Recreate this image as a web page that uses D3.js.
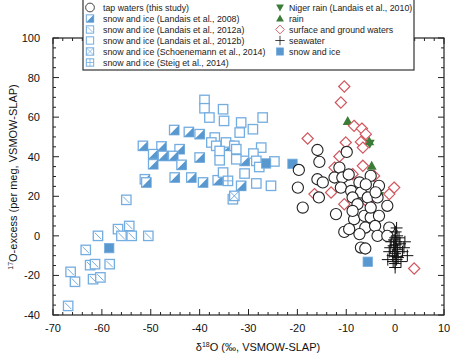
<!DOCTYPE html>
<html><head><meta charset="utf-8">
<script src="https://cdn.jsdelivr.net/npm/d3@7"></script>
<style>body{margin:0;background:#fff}svg{display:block;font-family:"Liberation Sans",Arial,sans-serif}</style>
</head><body><svg id="c" width="450" height="357"></svg>
<script>
// ---- data (δ18O, 17O-excess) ----
const landais2012a = [[-66.9,-35.4],[-66.4,-18.2],[-65.5,-23.2],[-63.3,-7.1],[-60.8,0],[-62.4,-14.8],[-61.4,-14.3],[-61.8,-21.9],[-60.3,-21],[-58.4,-14.3],[-56.7,3.4],[-56,0],[-54.4,5],[-53.9,0],[-50.5,0],[-55,18.2]];
const landais2008 = [[-45.2,53.5],[-42.2,52.5],[-40,51.4],[-51.6,45.5],[-47.8,45.2],[-44.1,43.8],[-49.5,41.3],[-47.5,40.4],[-45.4,40.4],[-40,39.6],[-49.5,36.2],[-43.7,35.9],[-51.2,28.6],[-50.9,27],[-45.1,29.5],[-41.7,29.5],[-39.3,27],[-36.3,28.1],[-31.5,25.3],[-30.8,37.9],[-33.9,45.5]];
const landais2012b = [[-39,68.7],[-39,64.5],[-38,59.8],[-35.2,64],[-35,58.1],[-31.5,57.3],[-27.1,59.8],[-29.1,53.9],[-31.8,52.2],[-36.9,49.7],[-37.6,47.2],[-36.6,45.5],[-34.6,47.2],[-32.9,45.5],[-32.5,43.8],[-35.9,42.9],[-27.4,44.6],[-29,41.6],[-32.5,38.7],[-35.9,38.2],[-28.4,37.9],[-24.7,37.6],[-27.8,34.8],[-35.2,32],[-30.8,31.5],[-28.4,26.5],[-25.4,25.3],[-33.2,18.5]];
const schoenemann2014 = [[-32.9,20.2]];
const steig2014 = [[-34.2,27.8]];
const snowIce = [[-58.5,-6.2],[-26.4,36.6],[-21,36.4],[-5.6,-13.1]];
const nigerRain = [[-3.3,20.2],[-5.2,46.5]];
const rain = [[-9.7,58.1],[-5.3,47.8],[-4.8,35.4]];
const surfaceGround = [[-10.4,75.5],[-11.1,67.4],[-17.9,49.2],[-8.4,55.6],[-6.8,54.2],[-6,51.4],[-7,47.5],[-10.1,47.2],[-6.6,44.6],[-11.4,40.1],[-6.6,35.4],[-12.4,34.5],[-8.7,31.2],[-4.3,30.3],[-0.2,24.4],[-1.2,21.1],[-16.5,21.1],[-13.1,21.9],[-10.4,16],[-5.6,16.9],[3.9,-16.5]];
const tapWaters = [[-15.9,43.4],[-15.5,37.4],[-19.7,33.3],[-19.9,24.4],[-18.9,14.3],[-15.9,28.6],[-14.8,27],[-15.6,19.4],[-9.9,42.4],[-11.4,34.5],[-12.4,29.5],[-10.8,29.5],[-5,30.3],[-7.3,27],[-11.1,24.4],[-9,22.7],[-7,21.9],[-3.3,25.3],[-8.7,19.4],[-5.6,19.4],[-3.6,19.4],[-7.7,16],[-1.6,15.2],[-12.1,11],[-8.4,8.4],[-6.3,10.1],[-5,9.3],[-3.3,10.1],[-6.1,4.2],[-4.1,5],[-1.2,4.2],[-10.4,2],[-7.3,0.9],[-3.6,0],[-1.6,0],[-7,-5.9],[-6.1,-6.4],[-9.4,3.4],[-5,14.3],[-8.7,12.6],[-9.5,31],[-6,26],[-4,22]];
const seawater = [[0,-1],[0.2,-3],[-0.3,-5],[0.5,-7],[0,-9],[-0.5,-10],[0.3,-12],[1,-4],[-1,-6],[1.5,-8],[0.1,2],[0.4,0],[-0.2,-2],[0,-14],[0.6,-11],[-1.2,-8],[2,-3],[0.2,-6],[-0.4,-13],[0.8,-1],[0,-16],[1.2,-13],[-0.8,-3],[0.3,4],[2.5,-10],[-1.5,-12],[0.1,-4.5],[-0.1,-8],[0.2,-10.5],[1.8,-6]];
const xTicks = [-70,-60,-50,-40,-30,-20,-10,0,10];
const yTicks = [-40,-20,0,20,40,60,80,100];
const legendLeft = [["circle","tap waters (this study)"],["half","snow and ice (Landais et al., 2008)"],["slash","snow and ice (Landais et al., 2012a)"],["open","snow and ice (Landais et al., 2012b)"],["xbox","snow and ice (Schoenemann et al., 2014)"],["grid","snow and ice (Steig et al., 2014)"]];
const legendRight = [["down","Niger rain (Landais et al., 2010)"],["up","rain"],["diamond","surface and ground waters"],["plus","seawater"],["filled","snow and ice"]];

// ---- layout ----
const svg = d3.select("#c");
const L=53,R=444,T=38,B=315;
const x = d3.scaleLinear().domain([-70,10]).range([L,R]);
const y = d3.scaleLinear().domain([-40,100]).range([B,T]);
const BLUE_S="#74ade0", BLUE_F="#5898cf", RED="#d2555d", GREEN="#3b7c38";

function sym(g,type,cx,cy,k){
  k=k||1;
  const s=9.4,h=s/2;
  const gg=g.append("g").attr("transform",`translate(${cx},${cy}) scale(${k})`);
  const box=()=>gg.append("rect").attr("x",-h).attr("y",-h).attr("width",s).attr("height",s).attr("fill","#fff").attr("stroke",BLUE_S).attr("stroke-width",1.3);
  const ln=(a,b,c,d)=>gg.append("line").attr("x1",a).attr("y1",b).attr("x2",c).attr("y2",d).attr("stroke",BLUE_S).attr("stroke-width",1);
  switch(type){
    case "circle": gg.append("circle").attr("r",5.6).attr("fill","#fff").attr("stroke","#222").attr("stroke-width",1.1); break;
    case "half": box(); gg.append("path").attr("d",`M${h},${-h}L${h},${h}L${-h},${h}Z`).attr("fill",BLUE_F); break;
    case "slash": box(); ln(-h+1.5,-h+1.5,h-1.5,h-1.5); break;
    case "open": box(); break;
    case "xbox": box(); ln(-h,-h,h,h); ln(-h,h,h,-h); break;
    case "grid": box(); ln(0,-h,0,h); ln(-h,0,h,0); break;
    case "filled": gg.append("rect").attr("x",-h).attr("y",-h).attr("width",s).attr("height",s).attr("fill",BLUE_F).attr("stroke",BLUE_S).attr("stroke-width",0.8); break;
    case "diamond": gg.append("path").attr("d","M0,-5.6L5.6,0L0,5.6L-5.6,0Z").attr("fill","#fff").attr("stroke",RED).attr("stroke-width",1.2); break;
    case "up": gg.append("path").attr("d","M0,-5L5,4L-5,4Z").attr("fill",GREEN); break;
    case "down": gg.append("path").attr("d","M0,5L5,-4L-5,-4Z").attr("fill",GREEN); break;
    case "plus": gg.append("path").attr("d","M-6,0H6M0,-6V6").attr("stroke","#111").attr("stroke-width",1); break;
  }
}

// frame + ticks
const ax=svg.append("g");
const tick=(x1,y1,x2,y2)=>ax.append("line").attr("x1",x1).attr("y1",y1).attr("x2",x2).attr("y2",y2).attr("stroke","#222").attr("stroke-width",1);
d3.range(-70,10.01,2).forEach(v=>{const len=(v%10===0)?6:3;tick(x(v),B,x(v),B-len);tick(x(v),T,x(v),T+len);});
d3.range(-40,100.01,5).forEach(v=>{const len=(v%20===0)?6:3;tick(L,y(v),L+len,y(v));tick(R,y(v),R-len,y(v));});
ax.append("rect").attr("x",L).attr("y",T).attr("width",R-L).attr("height",B-T).attr("fill","none").attr("stroke","#222").attr("stroke-width",1.2);
xTicks.forEach(v=>ax.append("text").attr("x",x(v)).attr("y",B+17).attr("text-anchor","middle").attr("font-size",11).attr("fill","#111").text(v));
yTicks.forEach(v=>ax.append("text").attr("x",L-13).attr("y",y(v)+4).attr("text-anchor","end").attr("font-size",11).attr("fill","#111").text(v));

// axis titles
const xt=svg.append("text").attr("x",258).attr("y",351).attr("text-anchor","middle").attr("font-size",11).attr("fill","#111");
xt.append("tspan").text("δ");xt.append("tspan").attr("font-size",7).attr("dy",-4).text("18");xt.append("tspan").attr("dy",4).text("O (‰, VSMOW-SLAP)");
const yt=svg.append("text").attr("transform","translate(17,177) rotate(-90)").attr("text-anchor","middle").attr("font-size",11).attr("fill","#111");
yt.append("tspan").attr("font-size",7).attr("dy",-4).text("17");yt.append("tspan").attr("dy",4).text("O-excess (per meg, VSMOW-SLAP)");

// points
const pg=svg.append("g");
const plot=(data,type)=>data.forEach(d=>sym(pg,type,x(d[0]),y(d[1])));
plot(landais2012a,"slash");
plot(landais2008,"half");
plot(landais2012b,"open");
plot(steig2014,"grid");
plot(schoenemann2014,"xbox");
plot(snowIce,"filled");
plot(rain,"up");
plot(nigerRain,"down");
plot(surfaceGround,"diamond");
plot(tapWaters,"circle");
plot(seawater,"plus");

// legend
const lg=svg.append("g");
lg.append("rect").attr("x",83).attr("y",-1).attr("width",331).attr("height",71).attr("fill","#fff").attr("stroke","#333").attr("stroke-width",1.2);
legendLeft.forEach((d,i)=>{const cy=7.5+i*11;sym(lg,d[0],90,cy,0.78);lg.append("text").attr("x",103).attr("y",cy+3).attr("font-size",8.8).attr("fill","#222").text(d[1]);});
legendRight.forEach((d,i)=>{const cy=7.5+i*11;sym(lg,d[0],280,cy,0.78);lg.append("text").attr("x",289).attr("y",cy+3).attr("font-size",8.8).attr("fill","#222").text(d[1]);});
</script></body></html>
